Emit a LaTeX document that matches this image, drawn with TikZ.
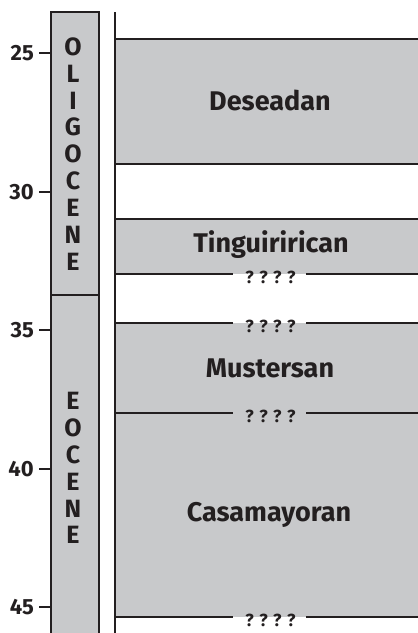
\documentclass[tikz,border=0pt]{standalone}
\usepackage{fontspec}
\setmainfont{Fira Sans}
\definecolor{fillgray}{HTML}{C8C9CB}
\definecolor{ink}{HTML}{231F20}
\tikzset{
  stagefill/.style={fill=fillgray},
  rule/.style={draw=ink, line width=2pt},
  stagelabel/.style={font=\fontsize{27}{27}\selectfont\bfseries, text=ink, inner sep=0pt},
  agelabel/.style={font=\fontsize{22}{22}\selectfont\bfseries, text=ink, inner sep=0pt, anchor=east},
  qmarks/.style={font=\fontsize{17.5}{17.5}\selectfont\bfseries, text=ink, inner sep=0pt},
  epochtext/.style={font=\fontsize{25}{26.9}\selectfont\bfseries, text=ink, align=center, inner sep=0pt},
}
\newcommand{\qq}{?\hspace{5.5pt}?\hspace{5.5pt}?\hspace{5.5pt}?}
\begin{document}
\begin{tikzpicture}[x=1pt,y=-1pt]
\useasboundingbox (0,0) rectangle (418,633);
% epoch column
\fill[fillgray] (51,12) rectangle (99,640);
\draw[rule] (51,640) -- (51,12) -- (99,12) -- (99,640);
\draw[rule] (51,295) -- (99,295);
\node[epochtext] (olig) at (73,154) {O\\L\\I\\G\\O\\C\\E\\N\\E};
\node[epochtext] (eoc) at (73,468) {E\\O\\C\\E\\N\\E};
% ticks
\foreach \a/\y in {25/53,30/192,35/330,40/469,45/607}{
  \coordinate (t\a) at (39,\y);
  \coordinate (u\a) at (51,\y);
  \draw[rule] (t\a) -- (u\a);
  \node[agelabel] (l\a) at (34,\y) {\a};
}
% stage boxes
\fill[stagefill] (115,39) rectangle (418,164);
\fill[stagefill] (115,219) rectangle (418,274);
\fill[stagefill] (115,323) rectangle (418,617);
% boundaries
\draw[rule] (115,39) -- (418,39);
\draw[rule] (115,164) -- (418,164);
\draw[rule] (115,219) -- (418,219);
\foreach \y in {274,323,413,617}{
  \draw[rule] (115,\y) -- (233,\y);
  \draw[rule] (306,\y) -- (418,\y);
}
\node[qmarks] (q1) at (270.5,277) {\qq};
\node[qmarks] (q2) at (270.5,326) {\qq};
\node[qmarks] (q3) at (270.5,416) {\qq};
\node[qmarks] (q4) at (270.5,620) {\qq};
% vertical axis line
\draw[rule] (115,12) -- (115,640);
% stage names
\node[stagelabel] (des) at (270,100) {Deseadan};
\node[stagelabel] (tin) at (271,245) {Tinguirirican};
\node[stagelabel] (mus) at (270,368) {Mustersan};
\node[stagelabel] (cas) at (269,515) {Casamayoran};
\end{tikzpicture}
\end{document}
